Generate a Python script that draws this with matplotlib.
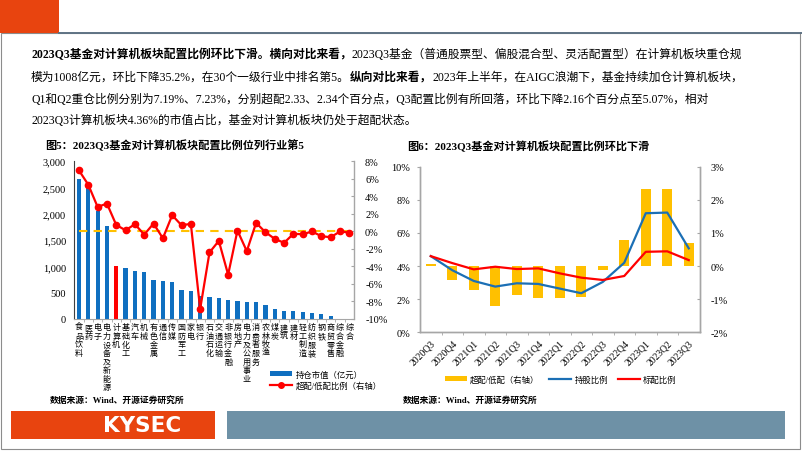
import numpy as np
import matplotlib
matplotlib.use('Agg')
import matplotlib.pyplot as plt
from matplotlib.patches import Rectangle, Patch
from matplotlib.lines import Line2D
from matplotlib.ticker import FuncFormatter, FixedLocator

W, H = 802, 452
FAM = ['Liberation Serif', 'Noto Sans CJK SC']
plt.rcParams['font.family'] = FAM
plt.rcParams['axes.unicode_minus'] = False

# ---- data: Fig 5 (industry ranking) ----
industries = ['食品饮料', '医药', '电子', '电力设备及新能源', '计算机', '基础化工', '汽车', '机械',
              '有色金属', '通信', '传媒', '国防军工', '家电', '银行', '石油石化', '交通运输',
              '非银行金融', '房地产', '电力及公用事业', '消费者服务', '农林牧渔', '煤炭', '建筑',
              '建材', '轻工制造', '纺织服装', '钢铁', '商贸零售', '综合金融', '综合']
hold_value = [2666, 2532, 2042, 1770, 1008, 967, 910, 897, 744, 725, 712, 559, 534, 445, 414,
              406, 369, 338, 330, 318, 261, 191, 153, 147, 134, 115, 95, 57, 3, 2]
over_ratio = [6.93, 5.30, 2.77, 3.15, 0.71, 0.11, 0.80, -0.38, 0.87, -0.80, 1.82, 0.68, 0.84,
              -8.86, -2.42, -1.10, -4.95, 0.08, -2.27, 0.95, -0.11, -0.87, -1.32, -0.30, -0.34,
              -0.03, -0.57, -0.68, -0.03, -0.15]

# ---- data: Fig 6 (quarterly) ----
quarters = ['2020Q3', '2020Q4', '2021Q1', '2021Q2', '2021Q3', '2021Q4', '2022Q1', '2022Q2',
            '2022Q3', '2022Q4', '2023Q1', '2023Q2', '2023Q3']
hold_pct = [4.60, 3.75, 3.10, 2.76, 2.96, 2.92, 2.64, 2.36, 3.04, 4.20, 7.19, 7.23, 5.07]
bench_pct = [4.60, 4.18, 3.80, 3.96, 3.82, 3.86, 3.56, 3.30, 3.16, 3.40, 4.86, 4.89, 4.36]
over_pct = [0.06, -0.43, -0.73, -1.22, -0.87, -0.97, -0.97, -0.93, -0.12, 0.80, 2.33, 2.34, 0.71]

BLUE = '#0F6FC0'
RED = '#FF0000'
GOLD = '#FFC000'
LINEBLUE = '#1B6FB5'
GRAY = '#A6A6A6'
ORANGE = '#E8440F'
SLATE = '#6E91A6'

fig = plt.figure(figsize=(W / 100, H / 100), dpi=100)
fig.patch.set_facecolor('white')


def fx(x):
    return x / W


def fy(y):
    return 1 - y / H


def px_rect(x0, y0, x1, y1, color, **kw):
    r = Rectangle((fx(x0), fy(y1)), (x1 - x0) / W, (y1 - y0) / H, transform=fig.transFigure,
                  facecolor=color, edgecolor='none', **kw)
    fig.add_artist(r)
    return r


# ---- page decorations ----
fig.add_artist(Rectangle((fx(1), fy(450)), 799 / W, 416 / H, transform=fig.transFigure,
                         facecolor='none', edgecolor='#8C8C8C', lw=0.8))
px_rect(0, 0, 59, 34, ORANGE)
fig.add_artist(Line2D([fx(59), 1], [fy(34), fy(34)], transform=fig.transFigure, color='#5F7384', lw=1.4))
px_rect(11, 412, 215, 440, ORANGE)
px_rect(227, 412, 785, 440, SLATE)
fig.text(fx(142), fy(426.5), 'KYSEC', color='white', fontsize=15.5, weight='bold',
         family='DejaVu Sans', ha='center', va='center')

# ---- paragraph ----
renderer = fig.canvas.get_renderer()
PSIZE = 8.45


def text_width(s, bold):
    t = fig.text(0, 0, s + 'I', fontsize=PSIZE, weight='bold' if bold else 'normal')
    t2 = fig.text(0, 0, 'I', fontsize=PSIZE, weight='bold' if bold else 'normal')
    w = t.get_window_extent(renderer).width - t2.get_window_extent(renderer).width
    t.remove()
    t2.remove()
    return w


def draw_runs(x, y, runs):
    for s, bold in runs:
        fig.text(fx(x), fy(y), s, fontsize=PSIZE, weight='bold' if bold else 'normal',
                 ha='left', va='center')
        x += text_width(s, bold)


lines = [
    [('2023Q3基金对计算机板块配置比例环比下滑。横向对比来看，', True),
     ('2023Q3基金（普通股票型、偏股混合型、灵活配置型）在计算机板块重仓规', False)],
    [('模为1008亿元，环比下降35.2%，在30个一级行业中排名第5。', False), ('纵向对比来看，', True),
     ('2023年上半年，在AIGC浪潮下，基金持续加仓计算机板块，', False)],
    [('Q1和Q2重仓比例分别为7.19%、7.23%，分别超配2.33、2.34个百分点，Q3配置比例有所回落，环比下降2.16个百分点至5.07%，相对', False)],
    [('2023Q3计算机板块4.36%的市值占比，基金对计算机板块仍处于超配状态。', False)],
]
for y, runs in zip([55, 78, 99.5, 121], lines):
    draw_runs(31, y, runs)

# ---- titles & sources ----
fig.text(fx(45), fy(145), '图5：2023Q3基金对计算机板块配置比例位列行业第5', fontsize=8, weight='bold',
         ha='left', va='center')
fig.text(fx(407), fy(146), '图6：2023Q3基金对计算机板块配置比例环比下滑', fontsize=8, weight='bold',
         ha='left', va='center')
fig.text(fx(50), fy(401), '数据来源：Wind、开源证券研究所', fontsize=6.3, weight='bold', ha='left', va='center')
fig.text(fx(403), fy(401), '数据来源：Wind、开源证券研究所', fontsize=6.3, weight='bold', ha='left', va='center')

# ---- Fig 5 ----
n1 = len(industries)
x1 = np.arange(n1)
ax1 = fig.add_axes([fx(74.3), fy(320), 279.7 / W, 158 / H])
bar_colors = [RED if name == '计算机' else BLUE for name in industries]
ax1.bar(x1, hold_value, width=0.45, color=bar_colors)
ax1.set_xlim(-0.5, n1 - 0.5)
ax1.set_ylim(0, 3000)
ax1.set_yticks(np.arange(0, 3001, 500))
ax1.yaxis.set_major_formatter(FuncFormatter(lambda v, p: f'{int(v):,}'))
ax1.tick_params(axis='y', length=0, labelsize=7.5, pad=6)
ax1.set_xticks(x1)
ax1.set_xticklabels(['\n'.join(name) for name in industries], fontsize=5.8, linespacing=1.1)
ax1.tick_params(axis='x', length=0, pad=3)
ax1.xaxis.set_minor_locator(FixedLocator(x1[:-1] + 0.5))
ax1.tick_params(axis='x', which='minor', length=2, color=GRAY, direction='out')
for s in ['top', 'right']:
    ax1.spines[s].set_visible(False)
ax1.spines['left'].set_color('#404040')
ax1.spines['left'].set_linewidth(0.8)
ax1.spines['bottom'].set_color(GRAY)

ax1r = ax1.twinx()
ax1r.hlines(0, x1[0], x1[-1], color=GOLD, lw=1.5, linestyles=(0, (4, 3)), zorder=2)
ax1r.plot(x1, over_ratio, color=RED, lw=1.6, marker='o', ms=4.5, zorder=3)
ax1r.set_ylim(-10, 8)
ax1r.set_yticks(np.arange(-10, 9, 2))
ax1r.yaxis.set_major_formatter(FuncFormatter(lambda v, p: f'{v:.0f}%'))
ax1r.tick_params(axis='y', length=2, direction='in', color=GRAY, labelsize=7.5, pad=8)
for s in ['top', 'left', 'bottom']:
    ax1r.spines[s].set_visible(False)
ax1r.spines['right'].set_color(GRAY)
ax1r.spines['right'].set_linewidth(1.0)

fig.legend(handles=[Patch(facecolor=BLUE, edgecolor='none', label='持仓市值（亿元）'),
                    Line2D([], [], color=RED, lw=1.6, marker='o', ms=4, label='超配/低配比例（右轴）')],
           loc='center left', bbox_to_anchor=(fx(270), fy(381)), frameon=False, fontsize=6,
           handlelength=2.6, handleheight=0.5, handletextpad=0.5, labelspacing=0.25, borderpad=0,
           borderaxespad=0)

# ---- Fig 6 ----
n2 = len(quarters)
x2 = np.arange(n2)
ax2 = fig.add_axes([fx(420), fy(333.3), 279.5 / W, 165.6 / H])
ax2r = ax2.twinx()
ax2r.bar(x2, over_pct, width=0.47, color=GOLD)
ax2r.set_ylim(-2, 3)
ax2r.set_yticks(np.arange(-2, 3.1, 1))
ax2r.yaxis.set_major_formatter(FuncFormatter(lambda v, p: f'{v:.0f}%'))
ax2r.tick_params(axis='y', length=2, direction='in', color=GRAY, labelsize=7.5, pad=8)

ax2.plot(x2, hold_pct, color=LINEBLUE, lw=1.6)
ax2.plot(x2, bench_pct, color=RED, lw=1.6)
ax2.set_zorder(ax2r.get_zorder() + 1)
ax2.patch.set_visible(False)
ax2.set_xlim(-0.5, n2 - 0.5)
ax2.set_ylim(0, 10)
ax2.set_yticks(np.arange(0, 11, 2))
ax2.yaxis.set_major_formatter(FuncFormatter(lambda v, p: f'{v:.0f}%'))
ax2.tick_params(axis='y', length=2, direction='out', color=GRAY, labelsize=7.5, pad=5)
ax2.set_xticks(x2)
ax2.set_xticklabels(quarters, rotation=45, ha='right', rotation_mode='anchor', fontsize=7)
ax2.tick_params(axis='x', length=0, pad=4)
ax2.xaxis.set_minor_locator(FixedLocator(x2[:-1] + 0.5))
ax2.tick_params(axis='x', which='minor', length=2, color=GRAY, direction='out')
for a in (ax2, ax2r):
    a.spines['top'].set_visible(False)
    for s in ['left', 'right', 'bottom']:
        a.spines[s].set_color(GRAY)
        a.spines[s].set_linewidth(1.0)

fig.legend(handles=[Patch(facecolor=GOLD, edgecolor='none', label='超配/低配（右轴）'),
                    Line2D([], [], color=LINEBLUE, lw=1.6, label='持股比例'),
                    Line2D([], [], color=RED, lw=1.6, label='标配比例')],
           loc='center left', bbox_to_anchor=(fx(445), fy(380.5)), frameon=False, fontsize=6,
           ncol=3, handlelength=2.6, handleheight=0.5, handletextpad=0.4, columnspacing=1.2,
           borderpad=0, borderaxespad=0)

fig.savefig('out.png', dpi=100)
